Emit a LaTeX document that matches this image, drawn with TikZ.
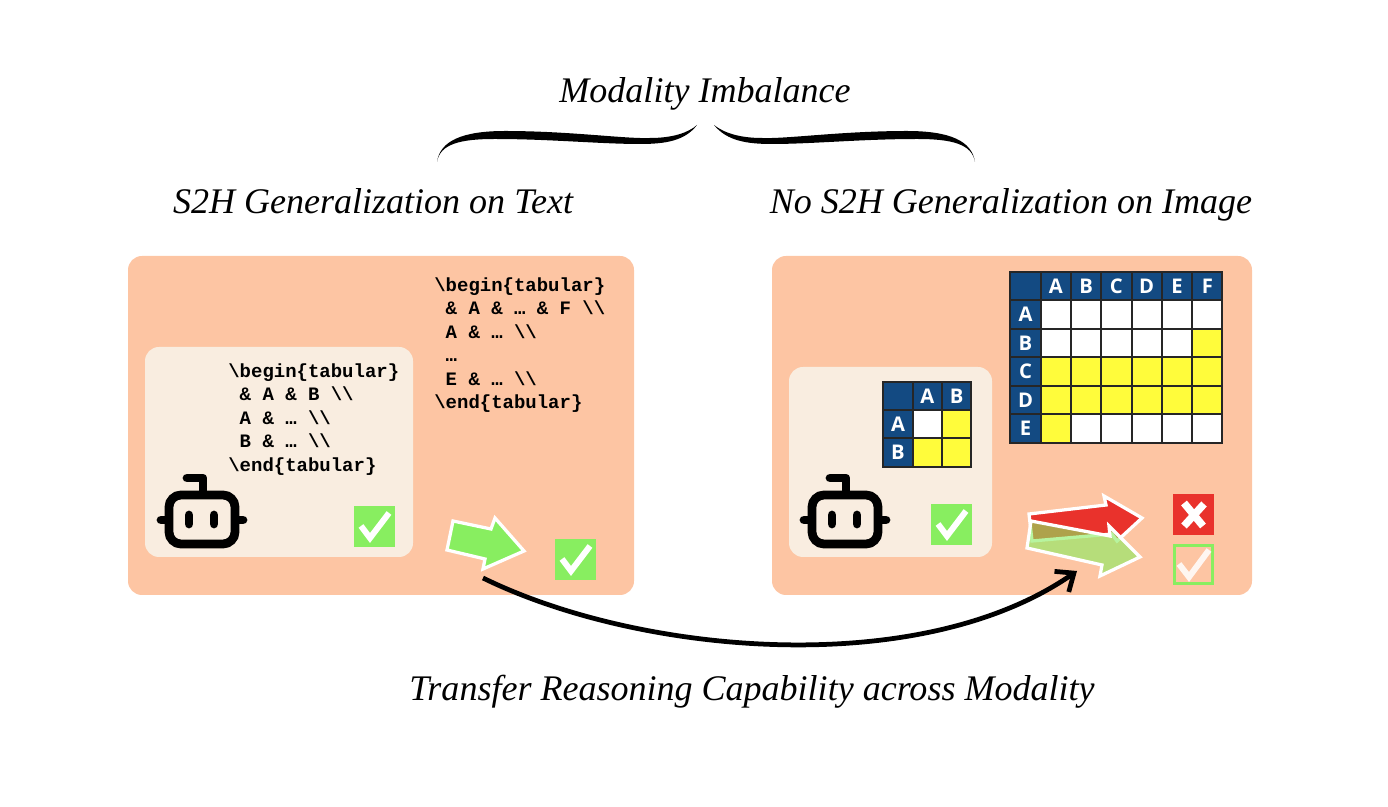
\documentclass[tikz,border=0pt]{standalone}
\usepackage{fontspec}
\setmainfont{Liberation Serif}
\setmonofont{Liberation Mono}
\setsansfont{Open Sans}
\usetikzlibrary{arrows.meta}
\definecolor{panelorange}{HTML}{FDC5A3}
\definecolor{panelcream}{HTML}{F9EDE0}
\definecolor{okgreen}{HTML}{88EE60}
\definecolor{badred}{HTML}{E9322C}
\definecolor{headblue}{HTML}{134A82}
\definecolor{cellyellow}{HTML}{FFFC3B}
\newcommand{\bs}{\textbackslash}
\tikzset{
  panel/.style={fill=panelorange,rounded corners=2.8mm},
  inner panel/.style={fill=panelcream,rounded corners=2.8mm},
  caption/.style={font=\fontsize{20.5}{24}\selectfont\itshape,inner sep=0pt,anchor=base},
  latexcode/.style={font=\fontsize{10.8}{13.4}\selectfont\ttfamily\bfseries,align=left,anchor=north west,inner sep=0pt},
  cellbox/.style={draw=black!85,line width=0.4mm,fill=white,minimum width=6.04mm,minimum height=5.7mm,inner sep=0pt},
  smallcell/.style={cellbox,minimum width=5.86mm,minimum height=5.66mm},
  headcell/.style={fill=headblue,text=white,font=\fontsize{11.5}{13}\selectfont\sffamily\bfseries},
  yellowcell/.style={fill=cellyellow},
  okbox/.style={fill=okgreen,minimum size=8.2mm,inner sep=0pt},
  tick/.style={white,line width=1.2mm,line join=miter},
  moveshape/.style={draw=white,line width=0.65mm,line join=miter},
  robotline/.style={black,line width=1.75mm,line cap=round},
}
\begin{document}
\begin{tikzpicture}[x=0.2mm,y=-0.2mm]
  \useasboundingbox (0,0) rectangle (1388,807);
  \fill[panel] (128,256) rectangle (634,595);
  \fill[panel] (772,256) rectangle (1252,595);
  \fill[inner panel] (145,347) rectangle (413,557);
  \fill[inner panel] (789,367) rectangle (992,557);
  \node[caption] (imbalance) at (705,103) {Modality Imbalance};
  \node[caption] (textside) at (373,214) {S2H Generalization on Text};
  \node[caption] (imageside) at (1011,214) {No S2H Generalization on Image};
  \node[caption] (transfer) at (752,701) {Transfer Reasoning Capability across Modality};
  \fill (437,162) .. controls (440,141) and (462,131) .. (505,131) .. controls (570,131) and (625,139) .. (650,138) .. controls (672,138) and (688,133) .. (697,125) .. controls (685,141) and (665,144) .. (640,144) .. controls (600,144) and (550,139) .. (495,139) .. controls (460,139) and (440,144) .. (437,162);
  \fill (975,162) .. controls (972,141) and (950,131) .. (907,131) .. controls (842,131) and (787,139) .. (762,138) .. controls (740,138) and (724,133) .. (714,125) .. controls (727,141) and (747,144) .. (772,144) .. controls (812,144) and (862,139) .. (917,139) .. controls (952,139) and (972,144) .. (975,162);
  \node[latexcode] (smallcode) at (228,363) {\bs begin\{tabular\}\\\ \& A \& B \bs\bs\\\ A \& … \bs\bs\\\ B \& … \bs\bs\\\bs end\{tabular\}};
  \node[latexcode] (bigcode) at (434,277) {\bs begin\{tabular\}\\\ \& A \& … \& F \bs\bs\\\ A \& … \bs\bs\\\ …\\\ E \& … \bs\bs\\\bs end\{tabular\}};
  \foreach \c/\l in {0/{},1/A,2/B,3/C,4/D,5/E,6/F}
    \node[cellbox,headcell] (bighead\c) at ({1025.5+30.3*\c},286) {\l};
  \foreach \r/\l in {1/A,2/B,3/C,4/D,5/E}{
    \node[cellbox,headcell] (bigrow\r) at (1025.5,{286+28.5*\r}) {\l};
    \foreach \c in {1,...,6}
      \node[cellbox] (big\r\c) at ({1025.5+30.3*\c},{286+28.5*\r}) {};}
  \foreach \r/\c in {2/6,3/1,3/2,3/3,3/4,3/5,3/6,4/1,4/2,4/3,4/4,4/5,4/6,5/1}
    \node[cellbox,yellowcell] (big\r\c) at ({1025.5+30.3*\c},{286+28.5*\r}) {};
  \foreach \c/\l in {0/{},1/A,2/B}
    \node[smallcell,headcell] (smallhead\c) at ({898+29.3*\c},396) {\l};
  \foreach \r/\l in {1/A,2/B}{
    \node[smallcell,headcell] (smallrow\r) at (898,{396+28.3*\r}) {\l};
    \foreach \c in {1,2}
      \node[smallcell,yellowcell] (small\r\c) at ({898+29.3*\c},{396+28.3*\r}) {};}
  \node[smallcell] (small11) at ({898+29.3},{396+28.3}) {};
  \foreach \dx in {0,643}{
    \draw[robotline,rounded corners=2.4mm] (169+\dx,495) rectangle (235+\dx,544);
    \draw[robotline,line join=round] (203+\dx,491) -- (203+\dx,478) -- (187+\dx,478);
    \draw[robotline] (161+\dx,520) -- (165+\dx,520);
    \draw[robotline] (239+\dx,520) -- (243+\dx,520);
    \draw[robotline] (189+\dx,515) -- (189+\dx,524);
    \draw[robotline] (214+\dx,515) -- (214+\dx,524);}
  \foreach \nm/\px/\py in {okleft/374/527,oktext/575/560,okright/951/525}{
    \node[okbox] (\nm) at (\px,\py) {};
    \draw[tick] (\px-13,\py-1) -- (\px-4,\py+11) -- (\px+15,\py-14);}
  \node[okbox,fill=badred] (badimage) at (1193.5,514.5) {};
  \draw[tick,line width=1.5mm] (1184,503) -- (1203,526) (1204,504) -- (1184,526);
  \node[okbox,fill=none,draw=okgreen,line width=0.7mm,minimum size=7.6mm] (weakcheck) at (1193.5,564.5) {};
  \draw[tick,opacity=0.85] (1179,564) -- (1189,577) -- (1209,550);
  \fill[okgreen,moveshape] (453,521) -- (491,529) -- (495,518) -- (524,551) -- (483,569) -- (485,559) -- (447,550) -- cycle;
  \fill[badred,moveshape] (1029,514) -- (1106,505) -- (1104,496) -- (1142,518) -- (1117,541) -- (1112,534) -- (1032,541) -- cycle;
  \fill[moveshape,fill=okgreen,fill opacity=0.6] (1031,521) -- (1110,536) -- (1109,526) -- (1140,557) -- (1100,576) -- (1102,565) -- (1027,548) -- cycle;
  \coordinate (pathstart) at (483,578);
  \coordinate (pathend) at (1077,571);
  \draw[line width=0.95mm,-{Straight Barb[length=3mm,width=5mm,line width=0.95mm]}] (pathstart) .. controls (640,655) and (920,680) .. (pathend);
\end{tikzpicture}
\end{document}
